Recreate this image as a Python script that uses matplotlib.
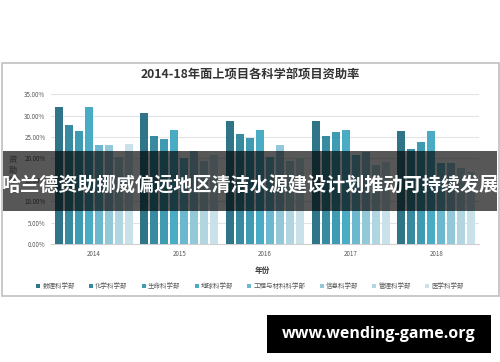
"""2014-18 面上项目各科学部项目资助率 (grouped bars) with banner overlay."""

import matplotlib

matplotlib.use("Agg")

import matplotlib.pyplot as plt
import numpy as np
from matplotlib.patches import Rectangle

plt.rcParams["font.family"] = ["Noto Sans CJK SC", "DejaVu Sans"]

years = ["2014", "2015", "2016", "2017", "2018"]
departments = [
    "数理科学部", "化学科学部", "生命科学部", "地球科学部",
    "工程与材料科学部", "信息科学部", "管理科学部", "医学科学部",
]
# funding rate (%) per department, one list per department across years
rate_math = [32.0, 30.5, 28.7, 28.7, 26.5]
rate_chem = [27.9, 25.3, 25.8, 25.3, 22.2]
rate_life = [26.4, 24.6, 24.8, 26.2, 23.9]
rate_earth = [31.9, 26.7, 26.6, 26.7, 26.5]
rate_eng = [23.1, 20.0, 20.3, 20.8, 18.8]
rate_info = [23.1, 21.6, 23.1, 21.5, 18.8]
rate_mgmt = [20.4, 19.4, 19.4, 18.4, 17.7]
rate_med = [23.3, 20.8, 20.0, 19.2, 16.9]
series = [rate_math, rate_chem, rate_life, rate_earth, rate_eng, rate_info, rate_mgmt, rate_med]

colors = ["#2f7487", "#378a9f", "#3e9bb2", "#4aabc5", "#6cb9cf", "#93c8d8", "#b1d6e1", "#c9e2ea"]

banner_text = "哈兰德资助挪威偏远地区清洁水源建设计划推动可持续发展"
site_text = "www.wending-game.org"

fig = plt.figure(figsize=(5.0, 3.62), dpi=100)
fig.patch.set_facecolor("white")

# chart frame
fig.patches.append(Rectangle((0.003, 0.183), 0.994, 0.644, transform=fig.transFigure,
                             fill=False, edgecolor="#c0c0c0", linewidth=1.2))

ax = fig.add_axes([0.102, 0.326, 0.856, 0.414])
x = np.arange(len(years))
slot = 0.1168
width = 0.094
for k, (vals, name, col) in enumerate(zip(series, departments, colors)):
    ax.bar(x + (k - 3.5) * slot, np.array(vals) / 100, width, color=col, label=name, zorder=3)

ax.set_xlim(-0.5, 4.5)
ax.set_ylim(0, 0.35)
ax.set_yticks(np.arange(0, 0.351, 0.05))
ax.set_yticklabels([f"{v:.2f}%" for v in np.arange(0, 35.1, 5)], fontsize=4.5, color="#595959")
ax.set_xticks(x)
ax.set_xticklabels(years, fontsize=4.5, color="#595959")
ax.tick_params(length=0, pad=4)
ax.grid(axis="y", color="#e3e3e3", linewidth=0.8, zorder=0)
for side in ["top", "right", "left"]:
    ax.spines[side].set_visible(False)
ax.spines["bottom"].set_color("#d0d0d0")

fig.text(0.5, 0.793, "2014-18年面上项目各科学部项目资助率", ha="center", va="center",
         fontsize=8.8, fontweight="bold", color="#333333")
fig.text(0.026, 0.53, "资\n助\n率", ha="center", va="center", fontsize=6,
         fontweight="bold", color="#333333", linespacing=1.15)
fig.text(0.524, 0.254, "年份", ha="center", va="center", fontsize=5.5,
         fontweight="bold", color="#333333")

handles, labels = ax.get_legend_handles_labels()
fig.legend(handles, labels, loc="center", bbox_to_anchor=(0.5, 0.21), ncol=8, frameon=False,
           fontsize=4.7, handlelength=0.6, handleheight=0.6, handletextpad=0.3,
           columnspacing=2.2, labelcolor="#595959")

# dark banner across the chart
fig.patches.append(Rectangle((0.006, 0.417), 0.988, 0.166, transform=fig.transFigure,
                             facecolor="black", alpha=0.66, edgecolor="none"))
fig.text(0.5, 0.487, banner_text, ha="center", va="center", fontsize=13.8,
         fontweight="bold", color="white")

# site tag
fig.patches.append(Rectangle((0.534, 0.026), 0.448, 0.104, transform=fig.transFigure,
                             facecolor="black", edgecolor="none"))
fig.text(0.757, 0.078, site_text, ha="center", va="center", fontsize=11.5,
         fontweight="bold", color="white", family="Open Sans")

fig.savefig("out.png", dpi=100)
